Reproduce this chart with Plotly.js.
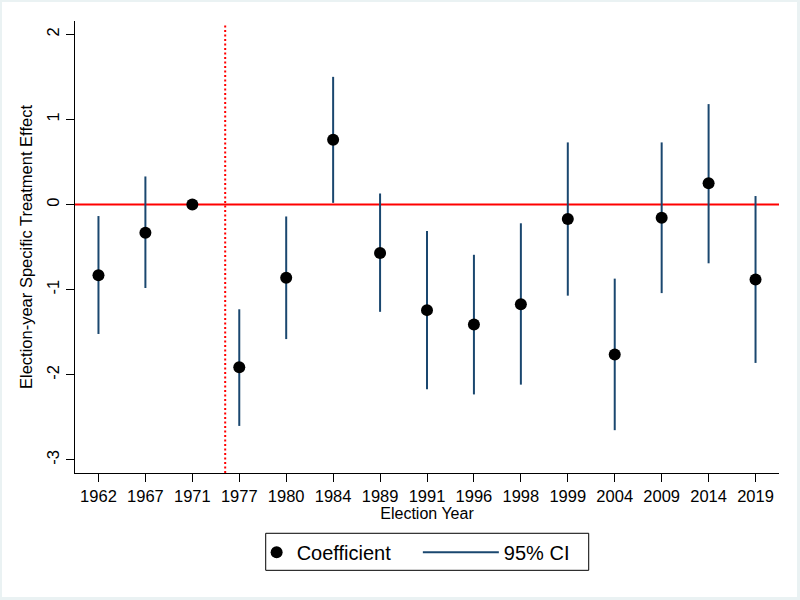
<!DOCTYPE html>
<html>
<head>
<meta charset="utf-8">
<script src="https://cdn.plot.ly/plotly-3.0.1.min.js"></script>
<style>
  html, body { margin: 0; padding: 0; background: #eaf2f3; }
  #chart { position: absolute; left: 2px; top: 2px; width: 795px; height: 595px; background: #fff; }
</style>
</head>
<body>
<div id="chart"></div>
<script>
const years = ['1962','1967','1971','1977','1980','1984','1989','1991','1996','1998','1999','2004','2009','2014','2019'];
const coef  = [-0.83, -0.33, 0.00, -1.91, -0.86, 0.76, -0.57, -1.24, -1.41, -1.17, -0.17, -1.76, -0.155, 0.25, -0.88];
const ciLow = [-1.52, -0.98, null, -2.60, -1.58, 0.02, -1.26, -2.17, -2.23, -2.115, -1.07, -2.65, -1.04, -0.69, -1.86];
const ciHigh= [-0.135, 0.33, null, -1.23, -0.14, 1.50, 0.13, -0.31, -0.59, -0.22, 0.73, -0.87, 0.73, 1.18, 0.10];
const yTickVals = [2, 1, 0, -1, -2, -3];
const yTickText = ['2', '1', '0', '-1', '-2', '-3'];
const treatmentBreak = 2.7;

const ciX = [], ciY = [];
years.forEach((yr, i) => {
  if (ciLow[i] === null) return;
  ciX.push(yr, yr, null);
  ciY.push(ciLow[i], ciHigh[i], null);
});

const font = 'Liberation Sans, Arial, Helvetica, sans-serif';

const traces = [
  {
    x: ciX, y: ciY, type: 'scatter', mode: 'lines', name: '95% CI',
    line: { color: '#1a476f', width: 2 }, legend: 'legend2', hoverinfo: 'skip'
  },
  {
    x: years, y: coef, type: 'scatter', mode: 'markers', name: 'Coefficient',
    marker: { color: '#000', size: 12 }, legend: 'legend'
  }
];

const layout = {
  width: 795, height: 595,
  margin: { l: 73, r: 18, t: 19, b: 124 },
  paper_bgcolor: '#fff', plot_bgcolor: '#fff',
  font: { family: font, color: '#000', size: 16.5 },
  showlegend: true,
  legend: {
    orientation: 'h', x: 0.258, xanchor: 'left', y: -0.132, yanchor: 'top',
    borderwidth: 0, bgcolor: 'rgba(0,0,0,0)', font: { size: 20, family: font }
  },
  legend2: {
    orientation: 'h', x: 0.487, xanchor: 'left', y: -0.132, yanchor: 'top',
    borderwidth: 0, bgcolor: 'rgba(0,0,0,0)', font: { size: 20, family: font },
    itemwidth: 76
  },
  xaxis: {
    type: 'category', categoryorder: 'array', categoryarray: years, range: [-0.5, 14.5],
    showline: true, linecolor: '#000', linewidth: 1,
    ticks: 'outside', ticklen: 8, tickcolor: '#000', tickwidth: 1,
    showgrid: false, zeroline: false,
    tickfont: { size: 16.5 },
    title: { text: 'Election Year', font: { size: 16 }, standoff: 4 }
  },
  yaxis: {
    range: [-3.153, 2.156],
    tickvals: yTickVals, ticktext: yTickText, tickangle: -90,
    showline: true, linecolor: '#000', linewidth: 1,
    ticks: 'outside', ticklen: 8, tickcolor: '#000', tickwidth: 1,
    showgrid: false, zeroline: false,
    tickfont: { size: 16.5 },
    title: { text: 'Election-year Specific Treatment Effect', font: { size: 16.5 } }
  },
  shapes: [
    { type: 'line', xref: 'paper', yref: 'y', x0: 0, x1: 1, y0: 0, y1: 0,
      line: { color: '#ff0000', width: 2 }, layer: 'below' },
    { type: 'line', xref: 'x', yref: 'paper', x0: treatmentBreak, x1: treatmentBreak, y0: 0, y1: 0.993,
      line: { color: '#ff0000', width: 2, dash: '2px,2.5px' }, layer: 'below' },
    { type: 'rect', xref: 'paper', yref: 'paper', x0: 0.2709, x1: 0.7297, y0: -0.2153, y1: -0.1334,
      line: { color: '#000', width: 1 }, fillcolor: 'rgba(0,0,0,0)' }
  ]
};

Plotly.newPlot('chart', traces, layout, { displayModeBar: false, staticPlot: true });
</script>
</body>
</html>
